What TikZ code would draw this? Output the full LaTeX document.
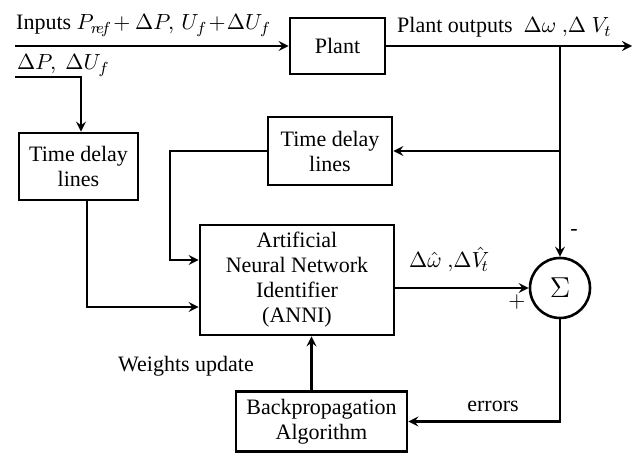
\documentclass[tikz,border=0pt]{standalone}
\usepackage{fontspec}
\setmainfont{Liberation Serif}
\begin{document}
\begin{tikzpicture}[>=stealth,x=0.5pt,y=-0.5pt,line width=1.2pt,font=\fontsize{11}{12.5}\selectfont,
  block/.style={draw,line width=1.3pt,align=center,inner sep=1pt},
  lbl/.style={inner sep=0pt}]
\useasboundingbox (0,0) rectangle (635,453);
\node[block,minimum width=47.5pt,minimum height=28pt] (plant) at (337.5,46) {Plant};
\node[block,minimum width=59.5pt,minimum height=33.5pt] (tdlL) at (78.5,166.5) {Time delay\\lines};
\node[block,minimum width=62pt,minimum height=34pt] (tdlR) at (330,151) {Time delay\\lines};
\node[block,minimum width=97pt,minimum height=55pt] (anni) at (297,280) {Artificial\\Neural Network\\Identifier\\(ANNI)};
\node[block,minimum width=85.5pt,minimum height=30pt] (bp) at (321.5,421.5) {Backpropagation\\Algorithm};
\node[draw,circle,line width=1.3pt,minimum size=30pt,inner sep=0pt] (sum) at (560,288) {\Large$\Sigma$};
\coordinate (in) at (15,46);
\coordinate (out) at (632,46);
\coordinate (br) at (560,46);
\coordinate (dp) at (15,77);
\coordinate (fb) at (170,0);
\coordinate (tl) at (87,307);
\draw[->] (in) -- (plant.west);
\draw[->] (plant.east) -- (out);
\draw[->] (br) -- (sum.north);
\draw[->] (br |- tdlR.east) -- (tdlR.east);
\draw[->] (tdlR.west) -- (fb |- tdlR.west) |- ([yshift=10pt]anni.west);
\draw[->] (dp) -- (81,77) -- (81,0 |- tdlL.north);
\draw[->] (tl |- tdlL.south) -- (tl) -- (tl -| anni.west);
\draw[->] (anni.east |- sum.west) -- (sum.west);
\draw[->] (sum.south) |- (bp.east);
\draw[->] ([xshift=-5pt]bp.north) -- ([xshift=-5pt]bp.north |- anni.south);
% labels
\node[lbl,anchor=base west] at (15,30) {Inputs\ $P_{r\!e\!f}\!+\Delta P,\,U_f\!+\!\Delta U_f$};
\node[lbl,anchor=base west] at (16,70) {$\Delta P,\ \Delta U_f$};
\node[lbl,anchor=base west] at (396,33) {Plant outputs\ \ $\Delta\omega\ ,\!\Delta\ V_t$};
\node[lbl,anchor=base west] at (408,268) {$\Delta\hat{\omega}\ ,\!\Delta\hat{V}_{\!t}$};
\node[lbl] at (517,302) {$+$};
\node[lbl] at (574,232) {-};
\node[lbl] at (186,366) {Weights update};
\node[lbl] at (493,406) {errors};
\end{tikzpicture}
\end{document}
